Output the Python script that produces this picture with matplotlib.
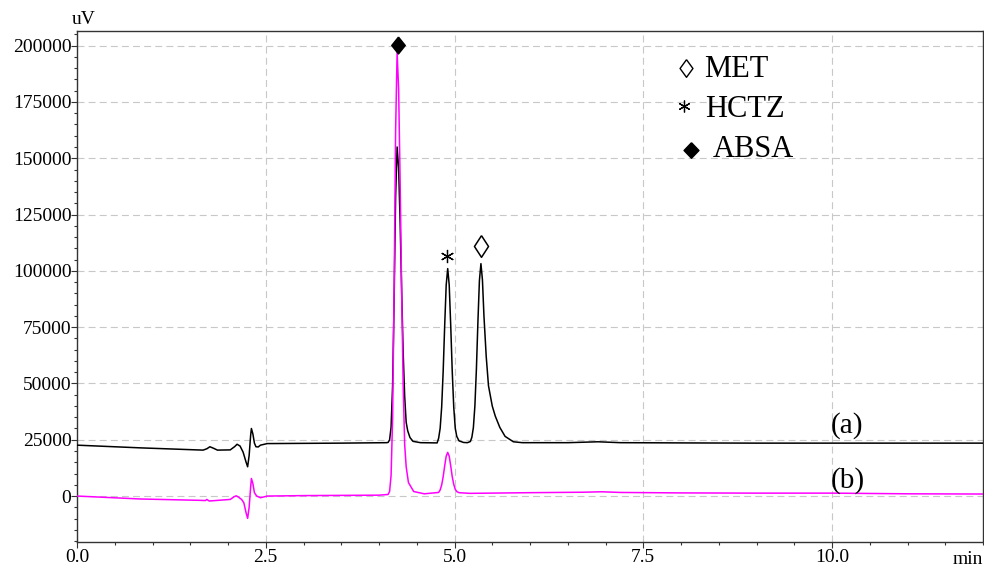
import numpy as np
import matplotlib.pyplot as plt
from matplotlib.ticker import MultipleLocator

plt.rcParams['font.family'] = ['Liberation Serif', 'DejaVu Serif', 'DejaVu Sans']

# trace (a) - black (min, uV)
time_a = [0.0, 0.84, 1.67, 1.72, 1.76, 1.81, 1.86, 2.03, 2.09, 2.12, 2.16, 2.20,
          2.24, 2.26, 2.28, 2.30, 2.31, 2.33, 2.35, 2.37, 2.40, 2.43, 2.52, 3.0,
          3.5, 4.10, 4.12, 4.14, 4.16, 4.18, 4.20, 4.22, 4.24, 4.26, 4.28, 4.30, 4.32,
          4.34, 4.36, 4.38, 4.41, 4.45, 4.55, 4.77, 4.79, 4.81, 4.83, 4.85, 4.87, 4.89,
          4.91, 4.93, 4.95, 4.97, 4.99, 5.01, 5.03, 5.06, 5.12, 5.17, 5.21, 5.23, 5.25, 5.27,
          5.29, 5.31, 5.33, 5.35, 5.37, 5.39, 5.42, 5.45, 5.50, 5.54, 5.60, 5.67,
          5.78, 5.90, 6.5, 6.9, 7.2, 8.0, 9.0, 10.0, 11.0, 12.0]
signal_a = [22600, 21400, 20400, 21000, 21900, 21200, 20400, 20500, 22000, 23000, 22200, 19500,
            15000, 13000, 18000, 27000, 30000, 27500, 23500, 21900, 21800, 22600, 23300, 23400,
            23500, 23700, 23800, 24900, 30600, 48800, 86700, 132900, 155000, 145600, 121400, 91100, 63800,
            44300, 32700, 29000, 26000, 24300, 23700, 23600, 25700, 30100, 39500, 55400, 75700, 93700,
            101000, 93700, 75700, 55400, 39500, 30100, 26500, 24500, 23800, 23700, 24200, 26100, 30400, 40000,
            56300, 77200, 95700, 103200, 96000, 80000, 62000, 49000, 40000, 35500, 30500, 26500,
            24100, 23700, 23700, 24100, 23700, 23600, 23500, 23500, 23500, 23500]

# trace (b) - magenta
time_b = [0.0, 0.84, 1.63, 1.70, 1.72, 1.75, 2.03, 2.08, 2.11, 2.14, 2.18, 2.21,
          2.24, 2.26, 2.28, 2.30, 2.31, 2.33, 2.35, 2.38, 2.43, 2.52, 3.0, 4.0,
          4.12, 4.14, 4.16, 4.18, 4.20, 4.22, 4.24, 4.26, 4.28, 4.30, 4.32, 4.34,
          4.36, 4.39, 4.46, 4.60, 4.79, 4.81, 4.83, 4.85, 4.87, 4.89, 4.91, 4.93,
          4.95, 4.97, 4.99, 5.01, 5.03, 5.06, 5.20, 6.0, 6.7, 6.95, 7.2, 8.0, 9.0,
          10.0, 11.0, 12.0]
signal_b = [0, -1300, -1900, -2000, -1500, -2200, -1500, -300, 100, -500, -1500, -3000,
            -7500, -9900, -5000, 4000, 7800, 5500, 1500, 0, -750, 0, 200, 400,
            700, 2000, 9100, 34300, 90500, 162200, 197000, 180700, 139400, 90500, 49400, 22900,
            13000, 6000, 2000, 1000, 1600, 2700, 4900, 8600, 13400, 17700, 19400, 17700,
            13400, 8600, 5200, 3000, 2000, 1500, 1200, 1500, 1700, 1900, 1600, 1400, 1300,
            1300, 1000, 900]

# peak symbols (ABSA, HCTZ, MET)
peak_names = ['ABSA', 'HCTZ', 'MET']
peak_times = [4.247, 4.898, 5.353]
peak_marks = [200500, 106600, 111100]

fig = plt.figure(figsize=(9.84, 5.68), dpi=100)
ax = fig.add_axes([77/984, 26/568, 906/984, 511/568])

ax.plot(time_a, signal_a, color='black', lw=1.1, zorder=3)
ax.plot(time_b, signal_b, color='#ff00ff', lw=1.1, zorder=3)

# markers over the peaks
diamond = [(0, 1), (0.8, 0), (0, -1), (-0.8, 0), (0, 1)]
lozenge = [(0, 1), (0.65, 0), (0, -1), (-0.65, 0), (0, 1)]
ax.plot(peak_times[0], peak_marks[0], marker=diamond, ms=12.2, color='black', ls='none', zorder=4)
ax.plot(peak_times[1], peak_marks[1], marker=(6, 2, 0), ms=9.5, mew=0.9, color='black', ls='none', zorder=4)
ax.plot(peak_times[2], peak_marks[2], marker=lozenge, ms=15.6, mfc='white', mec='black', mew=1.1,
        ls='none', zorder=4)

# legend block (axes fraction)
ax.plot(0.6727, 0.928, marker=[(0, 1), (0.73, 0), (0, -1), (-0.73, 0), (0, 1)], ms=12.7,
        mfc='white', mec='black', mew=1.0, transform=ax.transAxes, ls='none')
ax.plot(0.670, 0.853, marker=(6, 2, 0), ms=8.5, mew=0.9, color='black', transform=ax.transAxes, ls='none')
ax.plot(0.678, 0.768, marker=[(0, 1), (0.96, 0), (0, -1), (-0.96, 0), (0, 1)], ms=11.2,
        color='black', transform=ax.transAxes, ls='none')
ax.text(0.692, 0.9106, peak_names[2], fontsize=22, transform=ax.transAxes, va='baseline')
ax.text(0.693, 0.8323, peak_names[1], fontsize=22, transform=ax.transAxes, va='baseline')
ax.text(0.702, 0.7528, peak_names[0], fontsize=22, transform=ax.transAxes, va='baseline')

ax.text(9.98, 28000, '(a)', fontsize=21, va='baseline')
ax.text(9.98, 3550, '(b)', fontsize=21, va='baseline')

ax.set_xlim(0, 12)
ax.set_ylim(-20400, 206500)
ax.xaxis.set_major_locator(MultipleLocator(2.5))
ax.xaxis.set_minor_locator(MultipleLocator(0.5))
ax.yaxis.set_major_locator(MultipleLocator(25000))
ax.yaxis.set_minor_locator(MultipleLocator(5000))
ax.xaxis.set_major_formatter(lambda v, p: f'{v:.1f}')
ax.yaxis.set_major_formatter(lambda v, p: f'{v:.0f}')

ax.tick_params(which='major', length=4, width=0.8, labelsize=14, color='#333333')
ax.tick_params(which='minor', length=2.2, width=0.8, color='#333333')
ax.tick_params(axis='y', pad=0)
ax.tick_params(axis='x', pad=1)

for s in ax.spines.values():
    s.set_color('#333333')
    s.set_linewidth(1.0)

ax.grid(True, which='major', color='#c8c8c8', lw=0.8, linestyle=(0, (6.25, 3.75)), zorder=0)

fig.text(84/984, 1 - 20/568, 'uV', fontsize=14, ha='center', va='center')
fig.text(983/984, 1 - 560/568, 'min', fontsize=14, ha='right', va='center')

fig.savefig('out.png', dpi=100)
